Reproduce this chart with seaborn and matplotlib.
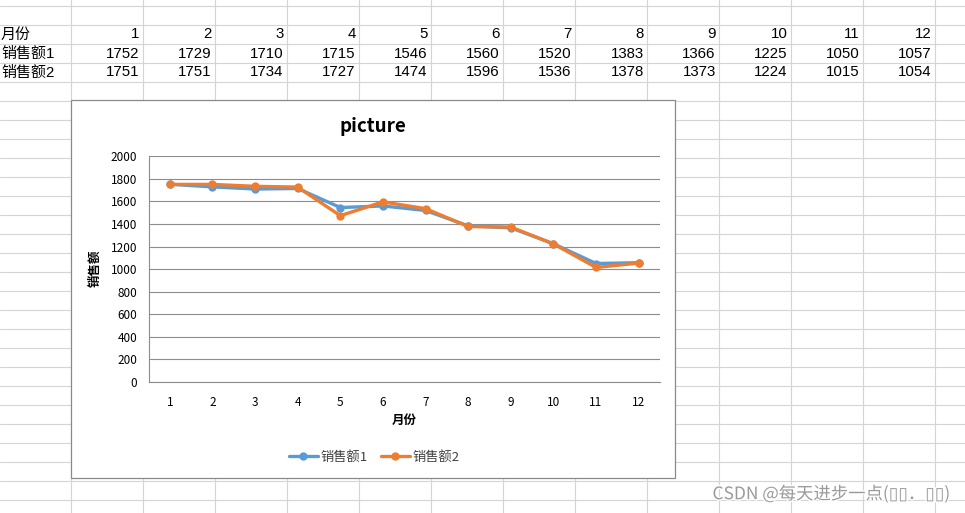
import matplotlib
matplotlib.use("Agg")
import matplotlib.pyplot as plt
import matplotlib.patheffects as pe
from matplotlib.lines import Line2D
from matplotlib.patches import Rectangle
import pandas as pd
import seaborn as sns

# data
months = [1, 2, 3, 4, 5, 6, 7, 8, 9, 10, 11, 12]
sales1 = [1752, 1729, 1710, 1715, 1546, 1560, 1520, 1383, 1366, 1225, 1050, 1057]
sales2 = [1751, 1751, 1734, 1727, 1474, 1596, 1536, 1378, 1373, 1224, 1015, 1054]
series_names = ["销售额1", "销售额2"]
row_labels = ["月份", "销售额1", "销售额2"]
colors = ["#5B9BD5", "#ED7D31"]

W, H = 965, 513

sns.set_theme(style="white")
plt.rcParams["font.family"] = ["Noto Sans CJK SC", "DejaVu Sans"]
table_font = ["Liberation Sans", "Noto Sans CJK SC"]

fig = plt.figure(figsize=(W / 100, H / 100), dpi=100)
fig.patch.set_facecolor("white")


def fx(x):
    return x / W


def fy(y):
    return 1 - y / H


# spreadsheet cell grid
grid_c = "#d4d4d4"
for k in range(13):
    x = 70.7 + 72 * k
    fig.add_artist(Line2D([fx(x), fx(x)], [0, 1], color=grid_c, lw=0.8, zorder=1))
for k in range(27):
    y = 5.5 + 19 * k
    fig.add_artist(Line2D([0, 1], [fy(y), fy(y)], color=grid_c, lw=0.8, zorder=1))

# table contents
rows = [months, sales1, sales2]
for r, (lab, vals) in enumerate(zip(row_labels, rows)):
    yc = 34.5 + 19 * r
    fig.text(fx(1), fy(yc), lab, ha="left", va="center", fontsize=10.8,
             family=table_font, color="#000000", zorder=3)
    for k, v in enumerate(vals):
        xr = 142.7 + 72 * k - 3
        fig.text(fx(xr), fy(yc), str(v), ha="right", va="center", fontsize=10.8,
                 family=table_font, color="#000000", zorder=3)

# chart box
fig.add_artist(Rectangle((fx(70.5), fy(478)), fx(675) - fx(70.5), fy(100) - fy(478),
                         transform=fig.transFigure, facecolor="white",
                         edgecolor="#8a8a8a", lw=0.9, zorder=2))

# plot area
ax = fig.add_axes([fx(148.5), fy(382), fx(660) - fx(148.5), fy(156.3) - fy(382)])
ax.set_zorder(5)
ax.patch.set_alpha(0)

df = pd.DataFrame({
    "月份": months * 2,
    "销售额": sales1 + sales2,
    "series": [series_names[0]] * 12 + [series_names[1]] * 12,
})
sns.lineplot(data=df, x="月份", y="销售额", hue="series", palette=colors,
             marker="o", markersize=6, markeredgewidth=0, linewidth=2.4,
             legend=False, ax=ax)

ax.set_xlim(0.5, 12.5)
ax.set_ylim(0, 2000)
ax.set_xticks(months)
ax.set_yticks(range(0, 2001, 200))
ax.yaxis.grid(True, color="#8c8c8c", lw=0.8)
ax.xaxis.grid(False)
ax.set_axisbelow(True)
for s in ["top", "right"]:
    ax.spines[s].set_visible(False)
for s in ["left", "bottom"]:
    ax.spines[s].set_color("#8c8c8c")
    ax.spines[s].set_linewidth(0.8)
ax.tick_params(length=0, labelsize=8.5, colors="#000000")
ax.tick_params(axis="x", pad=10)
ax.tick_params(axis="y", pad=8)
ax.set_xlabel("")
ax.set_ylabel("")

fig.text(fx(372.7), fy(126), "picture", ha="center", va="center",
         fontsize=13.5, fontweight="bold", color="#000000", zorder=6)
fig.text(fx(95), fy(268), "销售额", ha="center", va="center", rotation=90,
         fontsize=9, fontweight="bold", color="#000000", zorder=6)
fig.text(fx(404), fy(420), "月份", ha="center", va="center",
         fontsize=9, fontweight="bold", color="#000000", zorder=6)

handles = [Line2D([], [], color=c, lw=2.4, marker="o", markersize=5) for c in colors]
fig.legend(handles, series_names, loc="center", bbox_to_anchor=(fx(374), fy(457)),
           ncol=2, frameon=False, fontsize=9.5, handlelength=2.2, handletextpad=0.2,
           columnspacing=1.0, labelcolor="#404040")

# watermark
fig.text(fx(950), fy(494), "CSDN @每天进步一点(▯▯．▯▯)", ha="right", va="center",
         fontsize=12.5, color="#9a9a9a", zorder=7,
         path_effects=[pe.withStroke(linewidth=2, foreground="white")])

fig.savefig("out.png", dpi=100)
